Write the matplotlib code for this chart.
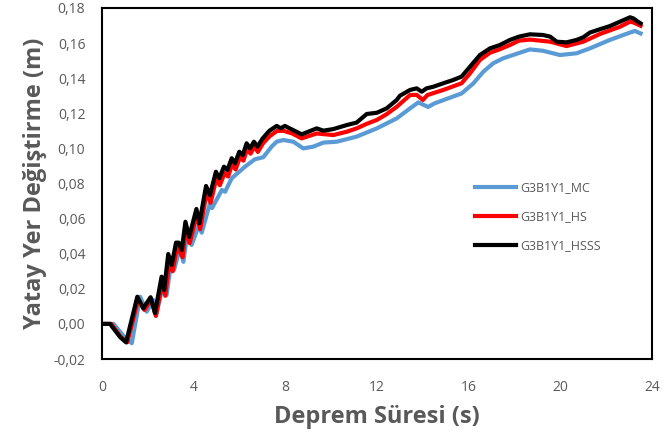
import numpy as np
import matplotlib
matplotlib.use("Agg")
import matplotlib.pyplot as plt
from matplotlib.ticker import FuncFormatter

# G3B1Y1_HSSS (siyah)
t_hsss = [0, 0.35, 0.79, 1.05, 1.54, 1.80, 2.12, 2.31, 2.60, 2.71, 2.89, 3.04, 3.23, 3.35,
          3.48, 3.64, 3.80, 4.12, 4.25, 4.54, 4.71, 4.97, 5.12, 5.32, 5.47, 5.66, 5.80, 5.99,
          6.14, 6.31, 6.46, 6.63, 6.78, 7.01, 7.30, 7.62, 7.80, 7.98, 8.33, 8.71, 9.00, 9.37,
          9.66, 10.09, 10.68, 11.11, 11.55, 11.99, 12.42, 12.86, 13.00, 13.44, 13.73, 13.95,
          14.16, 14.45, 14.89, 15.33, 15.69, 16.06, 16.49, 16.93, 17.36, 17.80, 18.20, 18.67,
          19.25, 19.55, 19.84, 20.27, 20.71, 21.00, 21.29, 21.73, 22.16, 22.60, 23.04, 23.18,
          23.35, 23.50]
v_hsss = [0.000, 0.000, -0.0075, -0.0105, 0.0155, 0.0089, 0.0152, 0.0062, 0.0269, 0.0193,
          0.0398, 0.0336, 0.0463, 0.0463, 0.0421, 0.0582, 0.0495, 0.0655, 0.0573, 0.0786,
          0.0734, 0.0867, 0.0830, 0.0896, 0.0877, 0.0944, 0.0915, 0.0981, 0.0962, 0.1029,
          0.1000, 0.1038, 0.1010, 0.1057, 0.1100, 0.1128, 0.1115, 0.1128, 0.1105, 0.1080,
          0.1095, 0.1114, 0.1101, 0.1110, 0.1133, 0.1147, 0.1196, 0.1203, 0.1228, 0.1276,
          0.1300, 0.1333, 0.1342, 0.1323, 0.1342, 0.1351, 0.1371, 0.1390, 0.1409, 0.1466,
          0.1532, 0.1570, 0.1589, 0.1618, 0.1637, 0.1650, 0.1646, 0.1637, 0.1608, 0.1604,
          0.1618, 0.1633, 0.1660, 0.1679, 0.1697, 0.1722, 0.1747, 0.1741, 0.1725, 0.1712]

# G3B1Y1_HS (kırmızı)
t_hs = [0, 0.40, 0.82, 1.10, 1.58, 1.85, 2.15, 2.35, 2.64, 2.76, 2.95, 3.08, 3.27, 3.52,
        3.66, 3.82, 4.14, 4.28, 4.57, 4.74, 4.99, 5.14, 5.35, 5.50, 5.68, 5.83, 6.02, 6.17,
        6.34, 6.48, 6.66, 6.80, 7.03, 7.32, 7.64, 7.93, 8.30, 8.71, 9.37, 10.09, 10.68, 11.11,
        11.55, 11.99, 12.42, 12.86, 13.44, 13.73, 14.00, 14.20, 14.89, 15.69, 16.06, 16.49,
        16.93, 17.36, 17.80, 18.20, 18.67, 19.55, 20.27, 21.00, 21.73, 22.60, 23.04, 23.18,
        23.50]
v_hs = [0.000, 0.000, -0.0075, -0.0105, 0.0140, 0.0080, 0.0140, 0.0045, 0.0240, 0.0160,
        0.0370, 0.0300, 0.0440, 0.0380, 0.0550, 0.0460, 0.0620, 0.0540, 0.0750, 0.0690,
        0.0830, 0.0790, 0.0860, 0.0840, 0.0910, 0.0880, 0.0950, 0.0930, 0.1000, 0.0970,
        0.1010, 0.0980, 0.1030, 0.1070, 0.1100, 0.1100, 0.1085, 0.1057, 0.1085, 0.1076,
        0.1095, 0.1114, 0.1140, 0.1162, 0.1195, 0.1237, 0.1304, 0.1305, 0.1276, 0.1304,
        0.1333, 0.1371, 0.1428, 0.1504, 0.1545, 0.1565, 0.1589, 0.1614, 0.1620, 0.1608,
        0.1583, 0.1608, 0.1652, 0.1693, 0.1722, 0.1718, 0.1699]

# G3B1Y1_MC (mavi)
t_mc = [0, 0.50, 0.95, 1.30, 1.66, 1.95, 2.24, 2.38, 2.71, 2.82, 3.04, 3.14, 3.40, 3.55,
        3.72, 3.91, 4.22, 4.35, 4.71, 4.80, 5.23, 5.37, 5.66, 6.24, 6.67, 7.04, 7.40, 7.62,
        7.91, 8.35, 8.78, 9.22, 9.66, 10.24, 11.11, 11.99, 12.57, 12.86, 13.44, 13.80, 14.23,
        14.50, 15.10, 15.69, 16.20, 16.64, 17.07, 17.50, 18.16, 18.67, 19.25, 19.98, 20.71,
        21.29, 22.16, 23.04, 23.25, 23.50]
v_mc = [0.000, 0.000, -0.0070, -0.0110, 0.0155, 0.0070, 0.0136, 0.0060, 0.0250, 0.0165,
        0.0374, 0.0307, 0.0431, 0.0354, 0.0516, 0.0450, 0.0560, 0.0520, 0.0687, 0.0660,
        0.0763, 0.0753, 0.0830, 0.0896, 0.0938, 0.0950, 0.1010, 0.1038, 0.1048, 0.1038,
        0.1000, 0.1010, 0.1033, 0.1038, 0.1067, 0.1114, 0.1152, 0.1171, 0.1228, 0.1262,
        0.1236, 0.1256, 0.1285, 0.1313, 0.1370, 0.1437, 0.1485, 0.1513, 0.1542, 0.1564,
        0.1556, 0.1532, 0.1542, 0.1570, 0.1618, 0.1660, 0.1669, 0.1655]

x_ticks = [0, 4, 8, 12, 16, 20, 24]
y_ticks = [-0.02, 0.00, 0.02, 0.04, 0.06, 0.08, 0.10, 0.12, 0.14, 0.16, 0.18]

assert len(t_hsss) == len(v_hsss) and len(t_hs) == len(v_hs) and len(t_mc) == len(v_mc)

plt.rcParams['font.family'] = ['Open Sans', 'DejaVu Sans']
grey = '#595959'

fig = plt.figure(figsize=(6.65, 4.41), dpi=100)
ax = fig.add_axes([0.1534, 0.1859, 0.8271, 0.796])

lw = 3.0
ax.plot(t_mc, v_mc, color='#5B9BD5', lw=lw, label='G3B1Y1_MC', solid_joinstyle='round')
ax.plot(t_hs, v_hs, color='#FF0000', lw=lw, label='G3B1Y1_HS', solid_joinstyle='round')
ax.plot(t_hsss, v_hsss, color='black', lw=lw, label='G3B1Y1_HSSS', solid_joinstyle='round')

ax.set_xlim(0, 24)
ax.set_ylim(-0.02, 0.18)
ax.set_xticks(x_ticks)
ax.set_yticks(y_ticks)
ax.yaxis.set_major_formatter(FuncFormatter(lambda v, p: f'{v:.2f}'.replace('.', ',').replace('-0,00', '0,00')))
ax.tick_params(length=0, labelsize=10, labelcolor=grey)
ax.tick_params(axis='x', pad=15)
ax.tick_params(axis='y', pad=12)

for s in ax.spines.values():
    s.set_color('black')
    s.set_linewidth(1.5)

ax.set_xlabel('Deprem Süresi (s)', fontsize=17, fontweight='bold', color=grey, labelpad=7)
ax.set_ylabel('Yatay Yer Değiştirme (m)', fontsize=17, fontweight='bold', color=grey, labelpad=5)

leg = ax.legend(loc='upper left', bbox_to_anchor=(0.667, 0.525), frameon=False,
                fontsize=9, handlelength=3.3, handletextpad=0.3, labelspacing=1.3,
                borderpad=0)
for txt in leg.get_texts():
    txt.set_color(grey)

fig.savefig('out.png', dpi=100)
